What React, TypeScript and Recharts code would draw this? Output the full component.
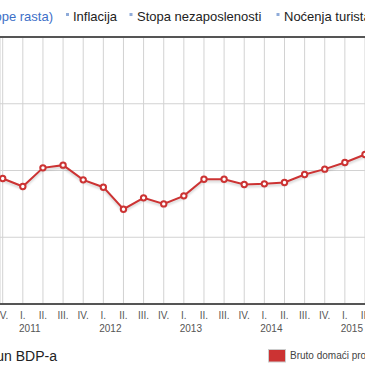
import React from "react";
import { LineChart, Line, XAxis, YAxis, CartesianGrid, ReferenceLine } from "recharts";

const quarters = ["IV.", "I.", "II.", "III.", "IV.", "I.", "II.", "III.", "IV.", "I.", "II.", "III.", "IV.", "I.", "II.", "III.", "IV.", "I.", "II."];
const years = ["2011", "2012", "2013", "2014", "2015"];
const gdpValues = [1.88, 1.76, 2.04, 2.08, 1.86, 1.75, 1.42, 1.59, 1.5, 1.62, 1.87, 1.87, 1.79, 1.8, 1.82, 1.94, 2.02, 2.12, 2.24];
const yTicks = [0, 1, 2, 3, 4];
const legendItems = ["Inflacija", "Stopa nezaposlenosti", "Noćenja turista"];

const data = gdpValues.map((v, i) => ({ i, v }));

const FONT = '"Liberation Sans", Arial, sans-serif';

function QuarterTick(props: any) {
  const { x, y, payload } = props;
  const idx = payload.value as number;
  const q = quarters[idx];
  let yearLabel: string | null = null;
  if (q === "I.") {
    let count = 0;
    for (let k = 0; k <= idx; k++) if (quarters[k] === "I.") count++;
    yearLabel = years[count - 1];
  }
  return (
    <g>
      <text x={x} y={y + 15} textAnchor="middle" fontSize={10} fill="#555" fontFamily={FONT}>
        {q}
      </text>
      {yearLabel && (
        <text x={x + 7} y={y + 27.5} textAnchor="middle" fontSize={10} fill="#555" fontFamily={FONT}>
          {yearLabel}
        </text>
      )}
    </g>
  );
}

export default function App() {
  const squareXs = [66, 129.5, 276.5];
  const textXs = [73, 137, 284];
  return (
    <div
      style={{
        position: "fixed",
        left: 0,
        top: 0,
        width: 365,
        height: 365,
        overflow: "hidden",
        background: "#fff",
        fontFamily: FONT,
      }}
    >
      <style>{`.recharts-line-curve { filter: drop-shadow(0px 2px 1px rgba(0,0,0,0.18)); }`}</style>
      <LineChart width={365} height={365} data={data} margin={{ top: 37, right: 0, bottom: 31, left: 0 }}>
        <CartesianGrid stroke="#d2d2d2" strokeWidth={1} />
        <XAxis
          type="number"
          dataKey="i"
          domain={[-0.134, 18]}
          ticks={quarters.map((_, k) => k)}
          interval={0}
          height={30}
          tickLine={false}
          tickSize={0}
          tickMargin={0}
          axisLine={{ stroke: "#555", strokeWidth: 2 }}
          tick={<QuarterTick />}
          allowDataOverflow
        />
        <YAxis hide domain={[0, 4]} ticks={yTicks} />
        <ReferenceLine y={4} stroke="#555" strokeWidth={2} ifOverflow="visible" />
        <Line
          type="linear"
          dataKey="v"
          stroke="#cc3333"
          strokeWidth={2}
          dot={{ r: 2.7, fill: "#fff", stroke: "#cc3333", strokeWidth: 2 }}
          activeDot={false}
          isAnimationActive={false}
        />
      </LineChart>
      <svg width={365} height={365} style={{ position: "absolute", left: 0, top: 0, pointerEvents: "none" }}>
        <text x={53} y={21} textAnchor="end" fontSize={13} fill="#3d6fc7" fontFamily={FONT}>
          BDP (stope rasta)
        </text>
        {legendItems.map((t, k) => (
          <g key={t}>
            <rect x={squareXs[k]} y={13} width={3} height={3} fill="#8fabd9" />
            <text x={textXs[k]} y={21} fontSize={13} fill="#222" fontFamily={FONT}>
              {t}
            </text>
          </g>
        ))}
        <text x={57} y={361} textAnchor="end" fontSize={14} fill="#222" fontFamily={FONT}>
          Obračun BDP-a
        </text>
        <rect x={268.5} y={349.5} width={17} height={12.5} fill="#cc3333" stroke="#ccc" strokeWidth={1} />
        <text x={290} y={358.5} fontSize={10} fill="#444" fontFamily={FONT}>
          Bruto domaći proizvod
        </text>
      </svg>
    </div>
  );
}
